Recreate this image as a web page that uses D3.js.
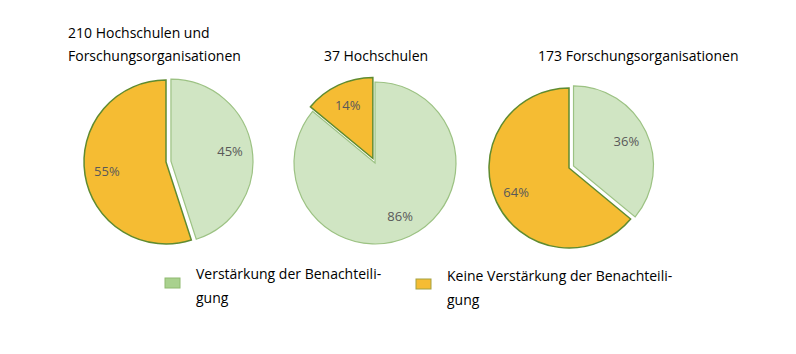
<!DOCTYPE html>
<html><head><meta charset="utf-8">
<script src="https://cdn.jsdelivr.net/npm/d3@7"></script>
<style>body{margin:0;background:#fff}svg{display:block}text{font-family:"Open Sans",sans-serif}</style>
</head><body>
<svg id="c" width="796" height="354"></svg>
<script>
const categories = ["Verstärkung der Benachteiligung", "Keine Verstärkung der Benachteiligung"];
const pieTitles = [["210 Hochschulen und", "Forschungsorganisationen"], ["37 Hochschulen"], ["173 Forschungsorganisationen"]];
const valuesAll = [45, 55];
const valuesHS = [86, 14];
const valuesFO = [36, 64];
const explodedIndex = [0, 1, 0];
const legendLines = [["Verstärkung der Benachteili-", "gung"], ["Keine Verstärkung der Benachteili-", "gung"]];

const series = [valuesAll, valuesHS, valuesFO];
const svg = d3.select("#c");
const fills = ["#D0E5C3", "#F5BC33"];
const strokes = ["#9CC283", "#5F8B30"];
const legendFills = ["#A9D18E", "#F5BC33"];
const legendStrokes = ["#8FBA70", "#A3A142"];

const layout = [
  {cx:166, cy:162, r:82, title:{x:68, y:38, anchor:"start", dy:23}},
  {cx:375, cy:163, r:81, title:{x:376, y:61, anchor:"middle", dy:23}},
  {cx:569, cy:168, r:80, title:{x:538, y:61, anchor:"start", dy:23}}
];

const pie = d3.pie().sort(null).value(d => d);
series.forEach((vals, i) => {
  const L = layout[i];
  const g = svg.append("g").attr("transform", `translate(${L.cx},${L.cy})`);
  const arc = d3.arc().innerRadius(0).outerRadius(L.r);
  const arcs = pie(vals);
  const labelArc = d3.arc().innerRadius(L.r*0.73).outerRadius(L.r*0.73);
  arcs.forEach((a, j) => {
    const mid = (a.startAngle + a.endAngle)/2;
    const off = j === explodedIndex[i] ? 5 : 0;
    const ox = Math.sin(mid)*off, oy = -Math.cos(mid)*off;
    const sg = g.append("g").attr("transform", `translate(${ox},${oy})`);
    sg.append("path").attr("d", arc(a)).attr("fill", fills[j])
      .attr("stroke", strokes[j]).attr("stroke-width", j===1?1.5:1.2).attr("stroke-linejoin","miter");
    const c = labelArc.centroid(a);
    sg.append("text").attr("x", c[0]).attr("y", c[1]).attr("dy", "0.35em")
      .attr("text-anchor", "middle").attr("font-size", 13).attr("fill", "#595959")
      .text(d3.format(".0f")(a.data) + "%");
  });
  pieTitles[i].forEach((t, k) => {
    svg.append("text").attr("x", L.title.x).attr("y", L.title.y + k*L.title.dy)
      .attr("text-anchor", L.title.anchor).attr("font-size", 14).attr("fill", "#000").text(t);
  });
});

const legendPos = [{x:165, y:278, tx:196, ty:279}, {x:416, y:279, tx:447, ty:281}];
categories.forEach((c, i) => {
  const P = legendPos[i];
  svg.append("rect").attr("x", P.x).attr("y", P.y).attr("width", 15).attr("height", 10)
    .attr("fill", legendFills[i]).attr("stroke", legendStrokes[i]).attr("stroke-width", 1);
  legendLines[i].forEach((t, k) => {
    svg.append("text").attr("x", P.tx).attr("y", P.ty + k*24).attr("font-size", 14)
      .attr("fill", "#000").text(t);
  });
});
</script>
</body></html>
